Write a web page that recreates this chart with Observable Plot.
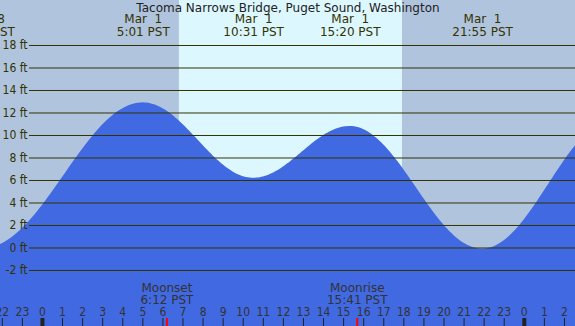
<!DOCTYPE html>
<html><head><meta charset="utf-8">
<script src="https://cdn.jsdelivr.net/npm/d3@7"></script>
<script src="https://cdn.jsdelivr.net/npm/@observablehq/plot@0.6"></script>
<style>
html,body{margin:0;padding:0;background:#b0c4de;overflow:hidden;}
svg text{white-space:pre;}
</style></head><body><div id="chart"></div>
<script>
// ---- data ----
const title = "Tacoma Narrows Bridge, Puget Sound, Washington";
// hours relative to Mar 1 00:00 PST
const tideTimes   = [-9.3, -2.88, 5.02, 10.52, 15.33, 21.92, 28.5, 34.5];
const tideHeights = [11.0, 0.0, 12.9, 6.2, 10.8, -0.1, 11.4, 6.5];
const tideDates   = ["Feb 28", "Feb 28", "Mar  1", "Mar  1", "Mar  1", "Mar  1", "Mar  2", "Mar  2"];
const tideClock   = ["14:42", "21:07", "5:01", "10:31", "15:20", "21:55", "4:30", "10:30"];
const sunTimes    = [6.82, 17.93];
const moonTimes   = [6.2, 15.68];
const moonNames   = ["Moonset", "Moonrise"];
const moonClock   = ["6:12", "15:41"];
const hourTicks   = [-2, -1, 0, 1, 2, 3, 4, 5, 6, 7, 8, 9, 10, 11, 12, 13, 14, 15, 16, 17, 18, 19, 20, 21, 22, 23, 24, 25, 26];
const midnights   = [0, 24];
const heightTicks = [-2, 0, 2, 4, 6, 8, 10, 12, 14, 16, 18];

// ---- tables ----
const tide = tideTimes.map((t, i) => ({t, h: tideHeights[i], label: `${tideDates[i]}\n${tideClock[i]} PST`}));
const moon = moonTimes.map((t, i) => ({t, label: `${moonNames[i]}\n${moonClock[i]} PST`}));
const sun = [{rise: sunTimes[0], set: sunTimes[1]}];

// cosine (tide-style) curve between successive extremes
function curveCosine(context) {
  return {
    areaStart() { this._line = 0; },
    areaEnd() { this._line = NaN; },
    lineStart() { this._point = 0; },
    lineEnd() {
      if (this._line || (this._line !== 0 && this._point === 1)) context.closePath();
      this._line = 1 - this._line;
    },
    point(x, y) {
      x = +x; y = +y;
      if (this._point === 0) {
        this._point = 1;
        this._line ? context.lineTo(x, y) : context.moveTo(x, y);
      } else {
        const x0 = this._x0, y0 = this._y0, n = 60;
        for (let i = 1; i <= n; i++) {
          const s = i / n;
          context.lineTo(x0 + (x - x0) * s, y0 + (y - y0) * (1 - Math.cos(Math.PI * s)) / 2);
        }
      }
      this._x0 = x; this._y0 = y;
    }
  };
}

const ink = "#333300";
const plot = Plot.plot({
  width: 575, height: 326, margin: 0,
  style: {background: "#b0c4de", fontFamily: "DejaVu Sans", fontSize: "12px", overflow: "hidden"},
  x: {domain: [-2.09, 26.55], axis: null},
  y: {domain: [-6.98, 22], axis: null},
  marks: [
    Plot.rect(sun, {x1: "rise", x2: "set", fill: "#ddf7ff"}),
    Plot.area(tide, {x1: "t", y1: -8, y2: "h", fill: "#4169e1", curve: curveCosine, clip: true}),
    Plot.ruleY(heightTicks, {y: d => d, stroke: ink, strokeWidth: 1, insetLeft: 29}),
    Plot.text(heightTicks, {y: d => d, text: d => `${d} ft`, frameAnchor: "left", dx: 27, textAnchor: "end", lineAnchor: "middle", fill: ink, fontFamily: "DejaVu Sans Condensed"}),
    Plot.text([title], {text: d => d, frameAnchor: "top", lineAnchor: "middle", dy: 7.5, fill: "#222"}),
    Plot.text(tide, {x: "t", text: "label", frameAnchor: "top", lineAnchor: "middle", dy: 25, fill: ink, lineHeight: 1.05}),
    Plot.text(moon, {x: "t", text: "label", frameAnchor: "bottom", lineAnchor: "middle", dy: -32, fill: "#333", lineHeight: 0.96}),
    Plot.text(hourTicks, {x: d => d, text: d => String((d + 24) % 24), frameAnchor: "bottom", lineAnchor: "middle", dy: -14, fill: "#333", fontFamily: "DejaVu Sans Condensed"}),
    Plot.ruleX(hourTicks, {x: d => d, insetTop: 318, stroke: "#222"}),
    Plot.ruleX(midnights, {x: d => d, insetTop: 318, strokeWidth: 4, stroke: "#222"}),
    Plot.ruleX(moonTimes, {x: d => d, insetTop: 318, strokeWidth: 2, stroke: "red"})
  ]
});
document.getElementById("chart").appendChild(plot);
</script>
</body></html>
